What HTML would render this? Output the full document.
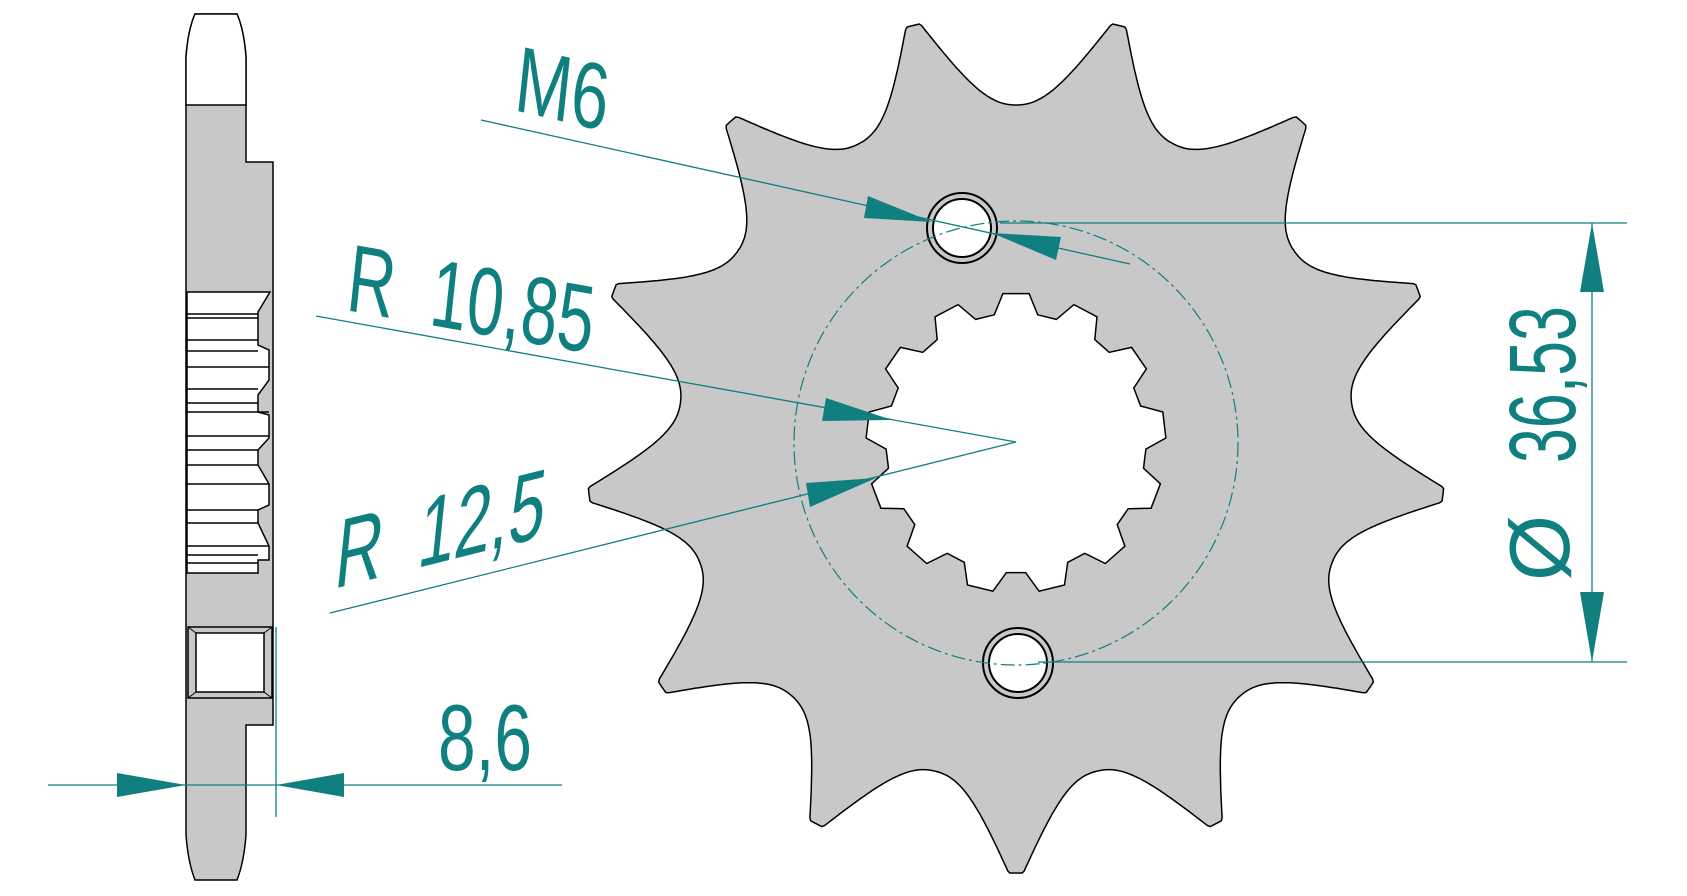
<!DOCTYPE html>
<html><head><meta charset="utf-8"><style>
html,body{margin:0;padding:0;background:#fff;}
svg{display:block;}
text{font-family:"Liberation Sans",sans-serif;fill:#0f7f80;}
</style></head><body>
<svg id="s" width="1687" height="896" viewBox="0 0 1687 896" xmlns="http://www.w3.org/2000/svg">
<!-- side view -->
<path d="M195,14 L237,14 Q244,30 246,57 L246,162 L273,162 L273,725 L246,725 L246,835 Q244,862 237,880 L195,880 Q188,862 186,835 L186,57 Q188,30 195,14 Z" fill="#c8c8c8" stroke="#000" stroke-width="1.5"/>
<path d="M195,14 L237,14 Q244,30 246,57 L246,105 L186,105 L186,57 Q188,30 195,14 Z" fill="#fff" stroke="#000" stroke-width="1.5"/>
<path d="M187,292 L270,292 L258,312 L258,345 L269,350 L269,380 L258,395 L258,412 L269,415 L269,438 L258,450 L258,465 L269,484 L269,505 L258,510 L258,523 L269,546 L269,560 L258,560 L258,573 L187,573 Z" fill="#fff" stroke="#000" stroke-width="1.5"/>
<g stroke="#000" stroke-width="1.5" fill="none">
<path d="M187,314 H258 M187,318 H258 M187,340 H258 M187,351 H258 M187,367 H269 M187,389 H258 M187,403 H258 M187,412 H269 M187,436 H269 M187,450 H258 M187,465 H258 M187,484 H269 M187,510 H258 M187,523 H258 M187,546 H269 M187,555 H258 M187,563 H258"/>
</g>
<rect x="188" y="627" width="84" height="71" fill="#c8c8c8" stroke="#000" stroke-width="1.5"/>
<rect x="196" y="633" width="68" height="59" fill="#fff" stroke="#000" stroke-width="1.5"/>
<path d="M188,627 L196,633 M272,627 L264,633 M188,698 L196,692 M272,698 L264,692" stroke="#000" stroke-width="1"/>
<!-- sprocket -->
<path id="spr" fill="#c8c8c8" stroke="#000" stroke-width="1.5"/>
<path id="bore" fill="#fff" stroke="#000" stroke-width="1.5"/>
<circle cx="962" cy="228" r="35" fill="#c8c8c8" stroke="#000" stroke-width="2"/>
<circle cx="962" cy="228" r="29" fill="#fff" stroke="#000" stroke-width="2"/>
<circle cx="1018" cy="663" r="35" fill="#c8c8c8" stroke="#000" stroke-width="2"/>
<circle cx="1018" cy="663" r="29" fill="#fff" stroke="#000" stroke-width="2"/>
<circle cx="1016" cy="443" r="222" fill="none" stroke="#0f7f80" stroke-width="1.2" stroke-dasharray="14,4,3,4"/>
<!-- dimension lines -->
<g stroke="#0f7f80" stroke-width="1.3" fill="none">
<line x1="481" y1="120" x2="1130" y2="264"/>
<line x1="1000" y1="223" x2="1627" y2="223"/>
<line x1="1038" y1="662" x2="1627" y2="662"/>
<line x1="1592" y1="223" x2="1592" y2="662"/>
<line x1="316" y1="316" x2="1016" y2="442"/>
<line x1="330" y1="613" x2="1016" y2="442"/>
<line x1="48" y1="785" x2="562" y2="785"/>
<line x1="276" y1="627" x2="276" y2="817"/>
</g>
<g fill="#0f7f80">
<polygon points="932,222 868,196 864,218"/>
<polygon points="992,233 1061,237 1056,260"/>
<polygon points="1592,223 1580,292 1604,292"/>
<polygon points="1592,662 1580,592 1604,592"/>
<polygon points="892,420 826,398 822,421"/>
<polygon points="876,478 806,483 810,507"/>
<polygon points="186,785 117,773 117,797"/>
<polygon points="276,785 344,773 344,797"/>
</g>
<!-- labels -->
<text font-size="95" transform="translate(513,110) skewY(13) skewX(-6) scale(0.7,1)">M6</text>
<text font-size="97" transform="translate(345,310) skewY(10) skewX(-6) scale(0.67,1)">R&#160;&#160;10,85</text>
<text font-size="97" transform="translate(333,589) skewY(-14) skewX(-6) scale(0.67,1)">R&#160;&#160;12,5</text>
<text font-size="94" transform="translate(438,770) scale(0.72,1)">8,6</text>
<text font-size="95" transform="translate(1575,463) rotate(-90) scale(0.66,1)">36,53</text>
<text font-size="85" transform="translate(1569,581) rotate(-90)">Ø</text>
</svg>
<script>
(function(){
var cx=1016,cy=443,Ro=430,Rr=338,N=13,per=2*Math.PI/N,half=per/2,t=0.07,p=2.2;
var pts=[];var M=1300;
for(var i=0;i<M;i++){
 var a=i/M*2*Math.PI;
 var rel=a-Math.PI; rel=((rel%per)+per)%per; if(rel>half) rel-=per;
 var u=Math.abs(rel)/half, r;
 if(u<t) r=Ro; else {var w=(1-u)/(1-t); r=Rr+(Ro-Rr)*Math.pow(w,p);}
 pts.push((cx+r*Math.sin(a)).toFixed(1)+","+(cy-r*Math.cos(a)).toFixed(1));
}
document.getElementById('spr').setAttribute('d','M'+pts.join(' L')+'Z');
var R1=150,R2=130,n=13,ps=2*Math.PI/n,d=Math.PI/180,b=[];
var pd=360/n;
for(var k=0;k<n;k++){
 var c=k*ps;
 var seq=[[-5,R1],[5,R1],[9.6,R2],[pd-9.6,R2]];
 for(var j=0;j<seq.length;j++){var aa=c+seq[j][0]*d,rr=seq[j][1];
  b.push((cx+rr*Math.sin(aa)).toFixed(1)+","+(cy-rr*Math.cos(aa)).toFixed(1));}
}
document.getElementById('bore').setAttribute('d','M'+b.join(' L')+'Z');
})();
</script>
</body></html>
